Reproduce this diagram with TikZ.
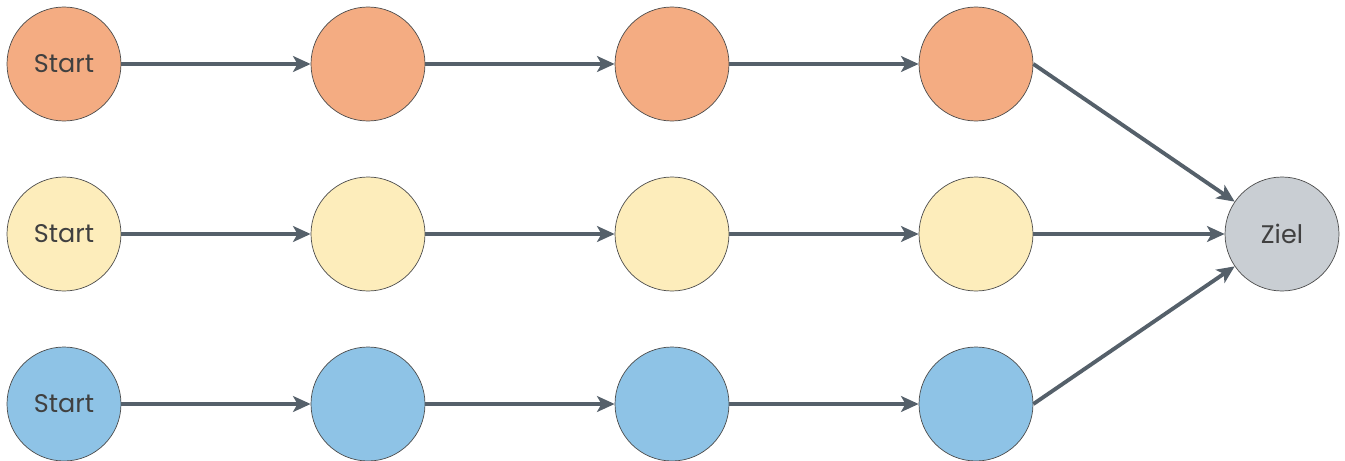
\documentclass[tikz,border=0pt]{standalone}
\usepackage{fontspec}
\setmainfont{Poppins}
\usetikzlibrary{arrows.meta}
\definecolor{orangefill}{HTML}{F4AC82}
\definecolor{yellowfill}{HTML}{FDEDBB}
\definecolor{bluefill}{HTML}{8EC3E6}
\definecolor{grayfill}{HTML}{C9CED3}
\definecolor{arrowgray}{HTML}{55606A}
\definecolor{textgray}{HTML}{404040}

\begin{document}
\begin{tikzpicture}[
    station/.style={circle,draw=black!70,line width=0.4pt,minimum size=2.28cm,inner sep=0pt,
      font=\fontsize{14.5}{16}\selectfont,text=textgray},
    pfeil/.style={draw=arrowgray,line width=2.2pt,-{Stealth[length=10pt,width=9pt,inset=2.5pt]}}
  ]
					%\draw[help lines] (0,0) grid (27,9);
					\useasboundingbox (0,0) rectangle (26.9,9.2);
					%orange row
					\node[station,fill=orangefill] (o1) at (1.28,7.92) {Start};
					\node[station,fill=orangefill] (o2) at (7.36,7.92) {};
					\node[station,fill=orangefill] (o3) at (13.44,7.92) {};
					\node[station,fill=orangefill] (o4) at (19.52,7.92) {};
					%yellow row
					\node[station,fill=yellowfill] (y1) at (1.28,4.52) {Start};
					\node[station,fill=yellowfill] (y2) at (7.36,4.52) {};
					\node[station,fill=yellowfill] (y3) at (13.44,4.52) {};
					\node[station,fill=yellowfill] (y4) at (19.52,4.52) {};
					%blue row
					\node[station,fill=bluefill] (b1) at (1.28,1.12) {Start};
					\node[station,fill=bluefill] (b2) at (7.36,1.12) {};
					\node[station,fill=bluefill] (b3) at (13.44,1.12) {};
					\node[station,fill=bluefill] (b4) at (19.52,1.12) {};
					%goal
					\node[station,fill=grayfill] (ziel) at (25.64,4.52) {Ziel};
					\draw[pfeil] (o1) -- (o2);
					\draw[pfeil] (o2) -- (o3);
					\draw[pfeil] (o3) -- (o4);
					\draw[pfeil] (o4.east) -- (ziel);
					\draw[pfeil] (y1) -- (y2);
					\draw[pfeil] (y2) -- (y3);
					\draw[pfeil] (y3) -- (y4);
					\draw[pfeil] (y4) -- (ziel);
					\draw[pfeil] (b1) -- (b2);
					\draw[pfeil] (b2) -- (b3);
					\draw[pfeil] (b3) -- (b4);
					\draw[pfeil] (b4.east) -- (ziel);
	  \end{tikzpicture}
\end{document}
